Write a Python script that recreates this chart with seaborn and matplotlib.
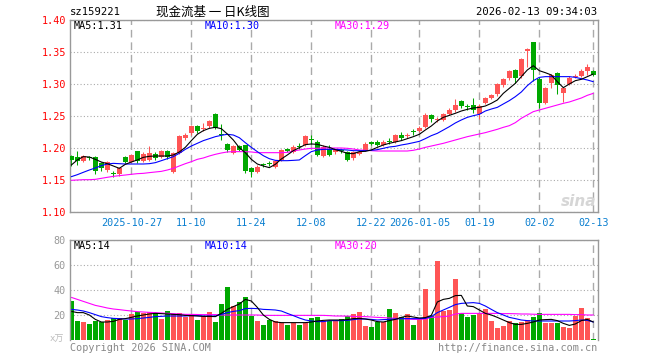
import numpy as np
import pandas as pd
import matplotlib
matplotlib.use("Agg")
import matplotlib.pyplot as plt
import seaborn as sns

code = "sz159221"
title = "现金流基 一 日K线图"
stamp = "2026-02-13 09:34:03"

# daily OHLC, 2025-10-13 .. 2026-02-13 (88 sessions)
open_ = [1.1875, 1.186, 1.180, 1.185, 1.186, 1.176, 1.165, 1.160, 1.160, 1.186,
         1.178, 1.195, 1.180, 1.182, 1.191, 1.186, 1.196, 1.163, 1.192, 1.215,
         1.223, 1.234, 1.229, 1.234, 1.253, 1.221, 1.206, 1.192, 1.203, 1.204,
         1.169, 1.163, 1.174, 1.176, 1.171, 1.181, 1.198, 1.194, 1.203, 1.205,
         1.214, 1.210, 1.1875, 1.199, 1.194, 1.196, 1.193, 1.184, 1.191, 1.197,
         1.208, 1.210, 1.205, 1.211, 1.210, 1.220, 1.219, 1.226, 1.227, 1.233,
         1.251, 1.244, 1.244, 1.253, 1.259, 1.273, 1.265, 1.267, 1.253, 1.270,
         1.278, 1.284, 1.298, 1.309, 1.322, 1.3125, 1.352, 1.365, 1.308, 1.271,
         1.301, 1.317, 1.286, 1.300, 1.311, 1.313, 1.321, 1.320]
close = [1.181, 1.180, 1.1875, 1.184, 1.164, 1.168, 1.178, 1.159, 1.168, 1.178,
         1.189, 1.179, 1.191, 1.192, 1.184, 1.195, 1.186, 1.192, 1.218, 1.221,
         1.234, 1.226, 1.232, 1.242, 1.232, 1.220, 1.197, 1.203, 1.197, 1.164,
         1.163, 1.171, 1.173, 1.175, 1.179, 1.197, 1.196, 1.202, 1.202, 1.218,
         1.213, 1.189, 1.202, 1.189, 1.197, 1.195, 1.182, 1.193, 1.194, 1.207,
         1.207, 1.205, 1.210, 1.210, 1.220, 1.215, 1.220, 1.225, 1.232, 1.252,
         1.246, 1.245, 1.253, 1.260, 1.267, 1.265, 1.264, 1.260, 1.266, 1.278,
         1.283, 1.300, 1.308, 1.320, 1.309, 1.3385, 1.354, 1.322, 1.270, 1.293,
         1.314, 1.298, 1.294, 1.310, 1.313, 1.321, 1.326, 1.314]
high = [1.189, 1.196, 1.189, 1.188, 1.188, 1.178, 1.180, 1.164, 1.170, 1.187,
        1.191, 1.196, 1.193, 1.203, 1.193, 1.197, 1.197, 1.194, 1.220, 1.223,
        1.236, 1.236, 1.239, 1.244, 1.254, 1.237, 1.208, 1.205, 1.205, 1.205,
        1.170, 1.173, 1.177, 1.179, 1.181, 1.199, 1.200, 1.204, 1.208, 1.221,
        1.220, 1.212, 1.204, 1.204, 1.199, 1.198, 1.195, 1.195, 1.196, 1.209,
        1.211, 1.212, 1.212, 1.215, 1.222, 1.225, 1.223, 1.229, 1.234, 1.254,
        1.253, 1.249, 1.255, 1.262, 1.276, 1.275, 1.268, 1.278, 1.268, 1.280,
        1.285, 1.302, 1.310, 1.322, 1.324, 1.340, 1.356, 1.366, 1.311, 1.295,
        1.316, 1.319, 1.296, 1.312, 1.315, 1.323, 1.331, 1.322]
low = [1.172, 1.173, 1.178, 1.181, 1.160, 1.164, 1.163, 1.154, 1.157, 1.176,
       1.176, 1.177, 1.178, 1.180, 1.182, 1.184, 1.183, 1.161, 1.190, 1.213,
       1.221, 1.224, 1.227, 1.232, 1.230, 1.213, 1.194, 1.190, 1.195, 1.161,
       1.154, 1.161, 1.170, 1.172, 1.168, 1.180, 1.194, 1.192, 1.199, 1.203,
       1.207, 1.187, 1.186, 1.187, 1.191, 1.192, 1.180, 1.182, 1.189, 1.195,
       1.205, 1.203, 1.203, 1.206, 1.208, 1.212, 1.216, 1.220, 1.225, 1.231,
       1.241, 1.240, 1.242, 1.251, 1.257, 1.263, 1.260, 1.255, 1.246, 1.268,
       1.276, 1.282, 1.296, 1.307, 1.301, 1.310, 1.327, 1.305, 1.263, 1.269,
       1.293, 1.285, 1.272, 1.298, 1.309, 1.311, 1.314, 1.312]
# volume, 万手
volume = [31.2, 15.2, 14.4, 12.8, 15.5, 14.4, 16.0, 18.0, 18.0, 16.0,
          20.8, 22.7, 21.3, 22.7, 21.3, 16.8, 23.2, 20.8, 21.6, 18.7,
          20.5, 16.0, 19.2, 22.4, 14.4, 28.8, 42.4, 27.2, 30.4, 34.4,
          19.2, 15.5, 12.0, 16.0, 15.5, 13.9, 12.0, 13.9, 12.0, 13.3,
          17.6, 18.4, 15.5, 15.2, 15.2, 16.5, 19.2, 20.8, 22.7, 11.2,
          10.7, 14.4, 14.4, 24.8, 21.9, 18.1, 20.8, 12.0, 16.5, 40.8,
          19.2, 63.2, 23.2, 24.0, 48.8, 21.6, 18.7, 20.0, 21.6, 24.8,
          15.2, 9.6, 11.2, 15.5, 13.3, 14.4, 16.0, 18.4, 21.6, 13.6,
          13.6, 13.6, 10.4, 9.6, 19.2, 25.6, 17.6, 0.8]

# moving averages as drawn on the chart
ma5 = [1.1734, 1.1813, 1.1865, 1.1859, 1.1823, 1.1781, 1.1755, 1.1719, 1.1682, 1.1745,
       1.1781, 1.1813, 1.1854, 1.1870, 1.1875, 1.1875, 1.1875, 1.1891, 1.1938, 1.2010,
       1.2115, 1.2214, 1.2271, 1.2307, 1.2323, 1.2302, 1.2219, 1.2125, 1.2005, 1.1927,
       1.1823, 1.1750, 1.1719, 1.1693, 1.1745, 1.1828, 1.1891, 1.1958, 1.2005, 1.2052,
       1.2063, 1.2057, 1.2031, 1.2010, 1.1974, 1.1948, 1.1917, 1.1911, 1.1943, 1.1948,
       1.1969, 1.2010, 1.2047, 1.2073, 1.2094, 1.2115, 1.2146, 1.2177, 1.2214, 1.2281,
       1.2344, 1.2422, 1.2479, 1.2510, 1.2542, 1.2578, 1.2604, 1.2625, 1.2635, 1.2656,
       1.2698, 1.2750, 1.2854, 1.2932, 1.3010, 1.3115, 1.3219, 1.3286, 1.3208, 1.3177,
       1.3141, 1.3036, 1.2943, 1.3000, 1.3052, 1.3073, 1.3115, 1.3156]
ma10 = [1.1552, 1.1583, 1.1620, 1.1656, 1.1688, 1.1724, 1.1750, 1.1760, 1.1755, 1.1750,
        1.1750, 1.1750, 1.1750, 1.1755, 1.1771, 1.1802, 1.1833, 1.1865, 1.1917, 1.1979,
        1.2031, 1.2073, 1.2115, 1.2146, 1.2177, 1.2198, 1.2214, 1.2203, 1.2161, 1.2083,
        1.2010, 1.1943, 1.1880, 1.1833, 1.1807, 1.1802, 1.1802, 1.1807, 1.1813, 1.1880,
        1.1943, 1.1969, 1.1979, 1.1979, 1.1979, 1.1974, 1.1969, 1.1958, 1.1958, 1.1958,
        1.1964, 1.1974, 1.1995, 1.2016, 1.2026, 1.2047, 1.2063, 1.2083, 1.2104, 1.2146,
        1.2193, 1.2229, 1.2281, 1.2333, 1.2391, 1.2438, 1.2479, 1.2505, 1.2526, 1.2578,
        1.2609, 1.2635, 1.2688, 1.2740, 1.2802, 1.2875, 1.2974, 1.3052, 1.3104, 1.3115,
        1.3115, 1.3115, 1.3115, 1.3115, 1.3104, 1.3083, 1.3063, 1.3036]
ma30 = [1.1495, 1.1500, 1.1505, 1.1505, 1.1510, 1.1526, 1.1542, 1.1557, 1.1568, 1.1578,
        1.1589, 1.1599, 1.1604, 1.1615, 1.1625, 1.1635, 1.1656, 1.1682, 1.1719, 1.1755,
        1.1786, 1.1823, 1.1844, 1.1875, 1.1901, 1.1922, 1.1938, 1.1943, 1.1943, 1.1943,
        1.1938, 1.1927, 1.1927, 1.1927, 1.1927, 1.1927, 1.1932, 1.1953, 1.1969, 1.1984,
        1.1995, 1.1995, 1.2000, 1.2000, 1.2000, 1.2000, 1.1995, 1.1984, 1.1969, 1.1964,
        1.1958, 1.1953, 1.1953, 1.1953, 1.1953, 1.1953, 1.1953, 1.1964, 1.1984, 1.2010,
        1.2031, 1.2052, 1.2073, 1.2099, 1.2125, 1.2151, 1.2177, 1.2198, 1.2219, 1.2240,
        1.2266, 1.2292, 1.2323, 1.2349, 1.2396, 1.2464, 1.2516, 1.2568, 1.2594, 1.2620,
        1.2646, 1.2672, 1.2698, 1.2719, 1.2750, 1.2781, 1.2823, 1.2854]
vma5 = [22.9, 21.9, 21.9, 20.0, 16.5, 14.4, 14.4, 14.9, 16.5, 17.1,
        18.1, 19.2, 20.0, 20.8, 21.3, 21.1, 20.8, 20.5, 20.3, 19.7,
        19.5, 19.2, 18.9, 18.9, 18.7, 21.3, 24.5, 26.7, 28.8, 32.5,
        31.2, 26.1, 20.0, 16.5, 14.4, 13.9, 13.9, 13.9, 13.9, 13.9,
        14.4, 15.2, 15.7, 16.0, 16.0, 16.0, 16.3, 17.1, 17.3, 16.8,
        16.0, 14.7, 14.4, 15.5, 16.5, 18.1, 19.2, 18.4, 17.6, 17.9,
        19.7, 30.4, 32.5, 33.3, 35.5, 35.7, 27.2, 26.7, 24.0, 21.3,
        20.0, 18.1, 16.0, 13.9, 12.5, 12.5, 13.3, 14.4, 16.0, 16.3,
        16.5, 15.5, 13.3, 11.7, 12.8, 15.5, 16.5, 14.4]
vma10 = [24.5, 24.0, 23.2, 21.9, 20.3, 18.7, 17.9, 17.3, 17.1, 16.8,
         16.8, 17.1, 17.6, 18.1, 18.7, 18.9, 19.2, 19.2, 19.2, 19.2,
         19.5, 19.5, 19.2, 19.2, 19.2, 20.5, 21.9, 22.9, 23.5, 25.1,
         25.3, 25.1, 24.5, 24.3, 24.0, 23.2, 21.3, 19.5, 17.6, 16.0,
         15.2, 14.7, 14.7, 15.5, 15.5, 15.5, 15.7, 16.3, 16.8, 16.8,
         16.5, 16.0, 16.3, 16.5, 16.8, 17.1, 17.1, 17.1, 17.1, 17.3,
         18.7, 21.9, 24.0, 26.1, 28.3, 29.3, 29.6, 29.9, 29.3, 27.2,
         24.5, 21.9, 20.0, 18.1, 17.1, 16.0, 15.5, 15.2, 15.2, 15.2,
         15.2, 15.2, 15.2, 15.2, 15.5, 16.0, 15.7, 14.4]
vma30 = [34.1, 32.5, 30.9, 29.3, 27.7, 26.7, 25.6, 24.8, 24.3, 23.7,
         23.2, 22.7, 22.4, 22.1, 21.9, 21.6, 21.3, 21.1, 20.8, 20.5,
         20.5, 20.4, 20.3, 20.3, 20.3, 20.0, 20.0, 20.0, 20.0, 20.0,
         20.0, 20.0, 19.7, 19.7, 19.7, 19.7, 19.7, 19.7, 19.7, 19.7,
         19.7, 19.7, 19.7, 19.5, 19.2, 19.2, 19.1, 18.9, 18.7, 18.7,
         18.4, 18.1, 17.9, 17.6, 17.3, 17.1, 16.8, 16.5, 16.5, 16.8,
         18.1, 18.4, 18.7, 19.2, 20.8, 21.3, 21.3, 21.3, 21.3, 21.3,
         21.3, 21.3, 21.1, 21.1, 21.0, 20.8, 20.8, 20.6, 20.5, 20.5,
         20.5, 20.5, 20.5, 20.5, 20.3, 20.3, 20.0, 20.0]

# legend values as printed on the chart
price_ma_labels = ["MA5:1.31", "MA10:1.30", "MA30:1.29"]
vol_ma_labels = ["MA5:14", "MA10:14", "MA30:20"]

tick_idx = [10, 20, 30, 40, 50, 58, 68, 78, 87]
tick_lab = ["2025-10-27", "11-10", "11-24", "12-08", "12-22",
            "2026-01-05", "01-19", "02-02", "02-13"]

df = pd.DataFrame({"open": open_, "close": close, "high": high, "low": low,
                   "volume": volume, "ma5": ma5, "ma10": ma10, "ma30": ma30,
                   "vma5": vma5, "vma10": vma10, "vma30": vma30})
df["x"] = np.arange(len(df))
df["up"] = df["close"] >= df["open"]

RED = "#FF5555"
GREEN = "#00A800"
BORDER = "#999999"
GRID = "#AAAAAA"
MA_COLORS = ["black", "#0000FF", "#FF00FF"]

sns.set_style("white")
plt.rcParams["font.family"] = ["DejaVu Sans Mono", "Noto Sans CJK SC"]
plt.rcParams["font.size"] = 7.3

W, H = 660, 360
fig = plt.figure(figsize=(6.6, 3.6), dpi=100)


def box(l, t, r, b):
    return [l / W, 1 - b / H, (r - l) / W, (b - t) / H]


def px(x, y):
    return x / W, 1 - y / H


ax = fig.add_axes(box(70, 20, 598, 212))
axv = fig.add_axes(box(70, 240, 598, 340))
xlim = (-0.22, 87.78)

# candles
cols = np.where(df["up"], RED, GREEN)
ax.vlines(df["x"], df["low"], df["high"], colors=cols, lw=0.75, zorder=2)
body_lo = np.minimum(df["open"], df["close"])
body_h = np.maximum((df["close"] - df["open"]).abs(), 0.0016)
ax.bar(df["x"], body_h, bottom=body_lo, width=0.75, color=cols, lw=0, zorder=3)

for col, c in zip(["ma30", "ma10", "ma5"], MA_COLORS[::-1]):
    sns.lineplot(data=df, x="x", y=col, ax=ax, color=c, lw=0.8, zorder=4)

ax.set_xlim(*xlim)
ax.set_ylim(1.10, 1.40)
ax.set_yticks(np.arange(1.10, 1.401, 0.05))
ax.yaxis.set_major_formatter(matplotlib.ticker.FormatStrFormatter("%.2f"))
ax.set_xticks(tick_idx)
ax.set_xticklabels(tick_lab)
ax.tick_params(axis="both", length=0, labelsize=7.3)
ax.tick_params(axis="y", labelcolor="#FF0000", pad=3)
ax.tick_params(axis="x", labelcolor="#0A7FD0", pad=4)
ax.set_xlabel("")
ax.set_ylabel("")
ax.set_axisbelow(True)
ax.grid(axis="x", color=GRID, ls=(0, (5.5, 3.5)), lw=1)
ax.grid(axis="y", color=GRID, ls=(0, (1, 2)), lw=0.8)
for s in ax.spines.values():
    s.set_color(BORDER)
    s.set_linewidth(1)

# volume
sns.barplot(data=df, x="x", y="volume", hue="up", palette={True: RED, False: GREEN},
            native_scale=True, width=0.78, dodge=False, errorbar=None,
            saturation=1, legend=False, linewidth=0, ax=axv)
for col, c in zip(["vma30", "vma10", "vma5"], MA_COLORS[::-1]):
    sns.lineplot(data=df, x="x", y=col, ax=axv, color=c, lw=0.8)
axv.set_xlim(*xlim)
axv.set_ylim(0, 80)
axv.set_yticks([20, 40, 60, 80])
axv.set_xticks(tick_idx)
axv.set_xticklabels([])
axv.tick_params(axis="both", length=0, labelsize=7.3)
axv.tick_params(axis="y", labelcolor=BORDER, pad=3)
axv.set_xlabel("")
axv.set_ylabel("")
axv.set_axisbelow(True)
axv.grid(axis="x", color=GRID, ls=(0, (5.5, 3.5)), lw=1)
axv.grid(axis="y", color=GRID, ls=(0, (1, 2)), lw=0.8)
for s in axv.spines.values():
    s.set_color(BORDER)
    s.set_linewidth(1)
axv.spines["bottom"].set_visible(False)

# texts
fig.text(*px(70, 12), code, va="center", ha="left", fontsize=7.6, color="black")
fig.text(*px(213, 12), title, va="center", ha="center", fontsize=9,
         family=["Noto Sans CJK SC", "DejaVu Sans"], color="black")
fig.text(*px(597, 12), stamp, va="center", ha="right", fontsize=7.6, color="black")

for xpos, lab, c in zip([74, 205, 335], price_ma_labels, MA_COLORS):
    fig.text(*px(xpos, 26), lab, va="center", color=c)
for xpos, lab, c in zip([74, 205, 335], vol_ma_labels, MA_COLORS):
    fig.text(*px(xpos, 246), lab, va="center", color=c)

fig.text(*px(64, 339), "x万", va="center", ha="right", fontsize=6.5, color="#BBBBBB",
         family=["DejaVu Sans Mono", "Noto Sans CJK SC"])
fig.text(*px(70, 348), "Copyright 2026 SINA.COM", va="center", ha="left", color="#888888")
fig.text(*px(597, 348), "http://finance.sina.com.cn", va="center", ha="right", color="#888888")
fig.text(*px(596, 201), "sina", va="center", ha="right", fontsize=11, color="#D6D6D6",
         style="italic", weight="bold", family="DejaVu Sans")

fig.savefig("out.png", dpi=100)
